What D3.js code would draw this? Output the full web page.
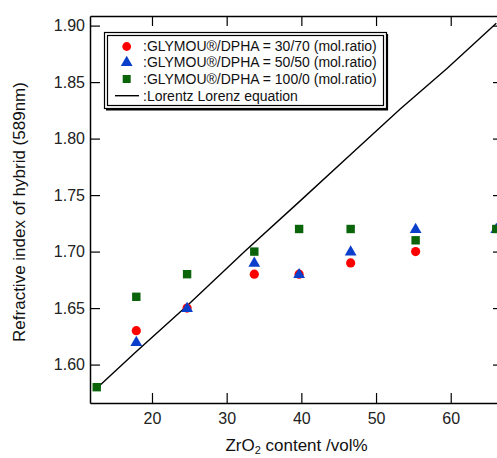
<!DOCTYPE html>
<html><head><meta charset="utf-8">
<script src="https://cdn.jsdelivr.net/npm/d3@7"></script>
<style>
html,body{margin:0;padding:0;background:#fff;}
svg{display:block;font-family:"Liberation Sans",Arial,Helvetica,sans-serif;}
</style></head>
<body>
<svg id="chart" width="497" height="458"></svg>
<script>
// ---- data ----
const zrO2 = [12.6, 17.9, 24.7, 33.7, 39.7, 46.6, 55.3, 66.1];
const ratio30_70 = [null, 1.63, 1.65, 1.68, 1.68, 1.69, 1.70, null];
const ratio50_50 = [null, 1.62, 1.65, 1.69, 1.68, 1.70, 1.72, 1.72];
const ratio100_0 = [1.58, 1.66, 1.68, 1.70, 1.72, 1.72, 1.71, 1.72];
const llX = [12.6, 17.8, 24.7, 32.4, 39.7, 46.6, 53.2, 59.5, 66.1];
const llY = [1.579, 1.611, 1.652, 1.700, 1.744, 1.786, 1.826, 1.862, 1.902];
const xTicks = [20, 30, 40, 50, 60];
const yTicks = [1.60, 1.65, 1.70, 1.75, 1.80, 1.85, 1.90];
const legendLabels = [
  ":GLYMOU®/DPHA = 30/70 (mol.ratio)",
  ":GLYMOU®/DPHA = 50/50 (mol.ratio)",
  ":GLYMOU®/DPHA = 100/0 (mol.ratio)",
  ":Lorentz Lorenz equation"
];

const svg = d3.select("#chart");
const L = 90, T = 16, R = 503, B = 403;
const x = d3.scaleLinear().domain([11.7, 67]).range([L, R]);
const y = d3.scaleLinear().domain([1.566, 1.9085]).range([B, T]);

const fmt = d3.format(".2f");
// axes
const gl = svg.append("g").attr("transform", `translate(${L},0)`)
  .call(d3.axisLeft(y).tickValues(yTicks).tickFormat(fmt).tickSizeInner(-10).tickSizeOuter(0).tickPadding(5));
const gb = svg.append("g").attr("transform", `translate(0,${B})`)
  .call(d3.axisBottom(x).tickValues(xTicks).tickFormat(d3.format("d")).tickSizeInner(-10).tickSizeOuter(0).tickPadding(10));
const gt = svg.append("g").attr("transform", `translate(0,${T})`)
  .call(d3.axisTop(x).tickValues(xTicks).tickFormat("").tickSizeInner(-10).tickSizeOuter(0));
const gr = svg.append("g").attr("transform", `translate(${R},0)`)
  .call(d3.axisRight(y).tickValues(yTicks).tickFormat("").tickSizeInner(-10).tickSizeOuter(0));
[gl, gb, gt, gr].forEach(g => {
  g.select(".domain").attr("stroke", "#000").attr("stroke-width", 1.5);
  g.selectAll(".tick line").attr("stroke", "#000").attr("stroke-width", 1.2);
  g.selectAll(".tick text").attr("fill", "#222").style("font-size", "16px")
    .style("font-family", '"Liberation Sans",Arial,sans-serif');
});

// Lorentz-Lorenz line
const llData = llX.map((v, i) => [v, llY[i]]);
svg.append("path").datum(llData)
  .attr("fill", "none").attr("stroke", "#000").attr("stroke-width", 1.4)
  .attr("d", d3.line().x(d => x(d[0])).y(d => y(d[1])));

const colRed = "#ff0000", colBlue = "#0a3fcc", colGreen = "#0a640a";
const triSym = d3.symbol().type(d3.symbolTriangle).size(60);

// circles
svg.append("g").selectAll("circle")
  .data(zrO2.map((v, i) => [v, ratio30_70[i]]).filter(d => d[1] != null))
  .join("circle").attr("cx", d => x(d[0])).attr("cy", d => y(d[1])).attr("r", 4.6).attr("fill", colRed);
// triangles
svg.append("g").selectAll("path")
  .data(zrO2.map((v, i) => [v, ratio50_50[i]]).filter(d => d[1] != null))
  .join("path").attr("d", triSym).attr("transform", d => `translate(${x(d[0])},${y(d[1]) + 0.5})`).attr("fill", colBlue);
// squares
svg.append("g").selectAll("rect")
  .data(zrO2.map((v, i) => [v, ratio100_0[i]]).filter(d => d[1] != null))
  .join("rect").attr("x", d => x(d[0]) - 4.2).attr("y", d => y(d[1]) - 4.2)
  .attr("width", 8.4).attr("height", 8.4).attr("fill", colGreen);

// legend
const lg = svg.append("g");
lg.append("rect").attr("x", 104.5).attr("y", 32.5).attr("width", 282).attr("height", 76)
  .attr("fill", "#fff").attr("stroke", "#000").attr("stroke-width", 1.2);
lg.append("line").attr("x1", 387.3).attr("x2", 387.3).attr("y1", 34).attr("y2", 110).attr("stroke", "#000").attr("stroke-width", 1.6);
lg.append("line").attr("x1", 106).attr("x2", 388).attr("y1", 109.8).attr("y2", 109.8).attr("stroke", "#000").attr("stroke-width", 1.6);
lg.append("rect").attr("x", 107.5).attr("y", 35.5).attr("width", 276).attr("height", 70)
  .attr("fill", "none").attr("stroke", "#000").attr("stroke-width", 1.2);
const rowY = [46.5, 62.5, 79, 95.7];
const sx = 126.7;
lg.append("circle").attr("cx", sx).attr("cy", rowY[0]).attr("r", 4.4).attr("fill", colRed);
lg.append("path").attr("d", triSym).attr("transform", `translate(${sx},${rowY[1]})`).attr("fill", colBlue);
lg.append("rect").attr("x", sx - 4).attr("y", rowY[2] - 4).attr("width", 8).attr("height", 8).attr("fill", colGreen);
lg.append("line").attr("x1", 115).attr("x2", 139).attr("y1", rowY[3]).attr("y2", rowY[3]).attr("stroke", "#000").attr("stroke-width", 1.4);
lg.selectAll("text.lt").data(legendLabels).join("text").attr("class", "lt")
  .attr("x", 143).attr("y", (d, i) => rowY[i]).attr("dy", "0.35em")
  .style("font-size", "14px").attr("fill", "#111").text(d => d);

// axis titles
svg.append("text").attr("transform", "translate(19,212) rotate(-90)")
  .attr("text-anchor", "middle").attr("dy", "0.35em").style("font-size", "17px").attr("fill", "#111")
  .text("Refractive index of hybrid (589nm)");
const xt = svg.append("text").attr("x", 296.5).attr("y", 451).attr("text-anchor", "middle")
  .style("font-size", "17px").attr("fill", "#111");
xt.append("tspan").text("ZrO");
xt.append("tspan").attr("dy", 3).style("font-size", "11px").text("2");
xt.append("tspan").attr("dy", -3).text(" content /vol%");
</script>
</body></html>
